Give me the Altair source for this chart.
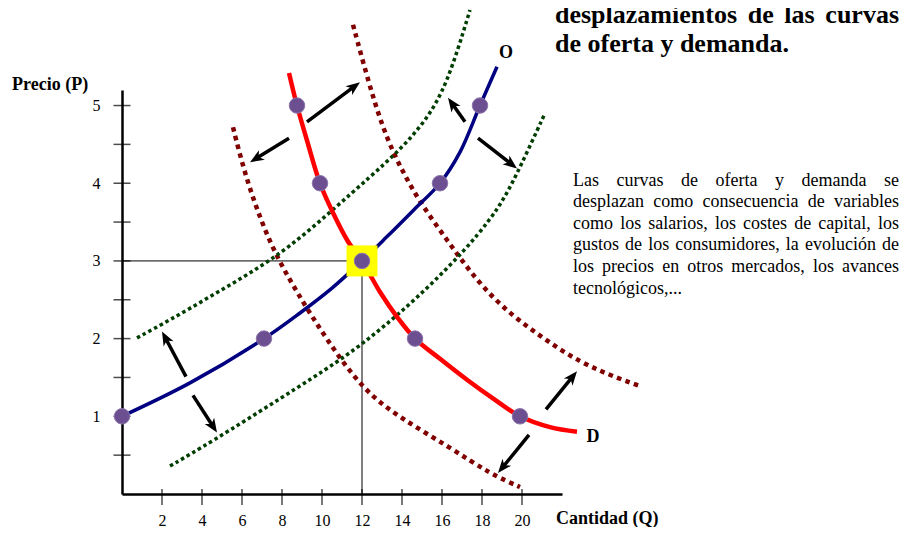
import math
import altair as alt
import pandas as pd

# ---------------- data ----------------
supply_q = [0, 3.4, 7.1, 8.9, 10.5, 12, 13.2, 14.6, 15.9, 16.9, 17.9, 18.75]
supply_p = [1, 1.43, 2, 2.33, 2.65, 3, 3.3, 3.66, 4, 4.4, 5, 5.5]

demand_q = [8.35, 8.75, 9.25, 9.9, 10.55, 11.3, 12, 12.9, 13.75, 14.65, 15.9, 17.25, 18.6, 19.9, 21.4, 22.75]
demand_p = [5.42, 5, 4.55, 4, 3.62, 3.25, 3, 2.6, 2.28, 2, 1.74, 1.47, 1.22, 1, 0.86, 0.8]

demand_left_q = [5.55, 6.05, 6.7, 7.55, 8.75, 10.25, 12.05, 13.9, 16.4, 18.4, 19.9]
demand_left_p = [4.72, 4.21, 3.69, 3.14, 2.59, 1.98, 1.34, 0.98, 0.6, 0.26, 0.09]

demand_right_q = [11.55, 12.25, 13.05, 13.9, 14.9, 16.25, 17.4, 18.9, 20.9, 22.9, 24.9, 25.9]
demand_right_p = [6.04, 5.37, 4.69, 4.21, 3.75, 3.27, 2.86, 2.42, 2.03, 1.69, 1.48, 1.39]

supply_left_q = [0.75, 2.4, 4.4, 6.4, 8.4, 10.55, 12.4, 13.9, 15.15, 16.25, 17.4]
supply_left_p = [2.01, 2.24, 2.54, 2.84, 3.18, 3.66, 4.08, 4.43, 4.79, 5.26, 6.23]

supply_right_q = [2.4, 4.4, 8.05, 10.9, 12.4, 13.9, 15.55, 17.15, 18.4, 19.15, 19.9, 21.15]
supply_right_p = [0.36, 0.66, 1.25, 1.72, 2.01, 2.33, 2.72, 3.14, 3.53, 3.82, 4.2, 4.9]

dots_q = [0, 7.1, 12, 15.9, 17.9, 8.75, 9.9, 14.65, 19.9]
dots_p = [1, 2, 3, 4, 5, 5, 4, 2, 1]

eq_q = [12]
eq_p = [3]

arrow_q1 = [9.25, 8.35, 17.15, 17.8, 3.2, 3.55, 21.2, 20.35]
arrow_p1 = [4.79, 4.58, 4.79, 4.58, 1.51, 1.27, 1.09, 0.76]
arrow_q2 = [11.9, 6.4, 16.3, 19.75, 2.0, 4.75, 22.75, 18.8]
arrow_p2 = [5.3, 4.27, 5.1, 4.19, 2.09, 0.79, 1.58, 0.27]

x_ticks = [2, 4, 6, 8, 10, 12, 14, 16, 18, 20]
y_ticks = [0.5, 1, 1.5, 2, 2.5, 3, 3.5, 4, 4.5, 5]
y_labels = [1, 2, 3, 4, 5]

title_lines = ["desplazamientos de las curvas", "de oferta y demanda."]
body_lines = [
    "Las curvas de oferta y demanda se",
    "desplazan como consecuencia de variables",
    "como los salarios, los costes de capital, los",
    "gustos de los consumidores, la evolución de",
    "los precios en otros mercados, los avances",
    "tecnológicos,...",
]

# ---------------- layout ----------------
W, H = 440, 404
XMAX, YMAX = 22, 5.2
PAD_L, PAD_T = 114, 82
PAD_R = 892 - PAD_L - W
PAD_B = 519 - PAD_T - H
X0 = 8 + PAD_L
Y0 = 8 + PAD_T
SX = W / XMAX
SY = H / YMAX
FONT = "Liberation Serif"


def to_data(px, py):
    return (px - X0) / SX, (Y0 + H - py) / SY


ROMAN = {' ': 250, ',': 250, '.': 250, 'a': 444, 'b': 500, 'c': 444, 'd': 500, 'e': 444,
         'f': 333, 'g': 500, 'h': 500, 'i': 278, 'j': 278, 'k': 500, 'l': 278, 'm': 778,
         'n': 500, 'o': 500, 'p': 500, 'q': 500, 'r': 333, 's': 389, 't': 278, 'u': 500,
         'v': 500, 'w': 722, 'x': 500, 'y': 500, 'z': 444, 'L': 611, 'ó': 500, 'é': 444}
BOLD = {' ': 250, '.': 250, ',': 250, 'a': 500, 'c': 444, 'd': 556, 'e': 444, 'f': 333,
        'i': 278, 'l': 278, 'm': 833, 'n': 556, 'o': 500, 'p': 556, 'r': 444, 's': 389,
        't': 333, 'u': 556, 'v': 500, 'y': 500, 'z': 444}


def tw(s, table, size):
    return sum(table.get(c, 500) for c in s) * size / 1000.0


def justify(lines, table, size, x0, x1, baselines):
    rows = []
    for i, (line, by) in enumerate(zip(lines, baselines)):
        words = line.split(" ")
        widths = [tw(w, table, size) for w in words]
        last = i == len(lines) - 1
        if last or len(words) == 1:
            gap = tw(" ", table, size)
        else:
            gap = (x1 - x0 - sum(widths)) / (len(words) - 1)
        x = x0
        for w, wd in zip(words, widths):
            q, p = to_data(x, by)
            rows.append({"q": q, "p": p, "t": w})
            x += wd + gap
    return pd.DataFrame(rows)


xs = alt.Scale(domain=[0, XMAX], nice=False, zero=False)
ys = alt.Scale(domain=[0, YMAX], nice=False, zero=False)
x_axis = alt.Axis(values=x_ticks, title=None, grid=False, ticks=False, tickSize=0,
                  domainColor="black", domainWidth=2.5, labelFont=FONT, labelFontSize=16,
                  labelColor="black", labelPadding=18, labelFlush=False, labelOverlap=False,
                  format="d")
y_axis = alt.Axis(values=y_labels, title=None, grid=False, ticks=False, tickSize=0,
                  domainColor="black", domainWidth=2.5, labelFont=FONT, labelFontSize=16,
                  labelColor="black", labelPadding=22, labelFlush=False, labelOverlap=False,
                  format="d")


def X(f):
    return alt.X(f"{f}:Q", scale=xs, axis=x_axis)


def Y(f):
    return alt.Y(f"{f}:Q", scale=ys, axis=y_axis)


def curves(pairs):
    rows = []
    for name, qs, ps in pairs:
        for q, p in zip(qs, ps):
            rows.append({"curve": name, "q": q, "p": p})
    return pd.DataFrame(rows)


layers = []

# crosshair to equilibrium
cross = pd.DataFrame({"q": [0, eq_q[0]], "q2": [eq_q[0], eq_q[0]],
                      "p": [eq_p[0], 0], "p2": [eq_p[0], eq_p[0]]})
layers.append(alt.Chart(cross).mark_rule(color="black", strokeWidth=1).encode(
    x=X("q"), x2="q2", y=Y("p"), y2="p2"))

# axis ticks crossing the axes
layers.append(alt.Chart(pd.DataFrame({"q": x_ticks, "p": [0] * len(x_ticks)})).mark_tick(
    orient="vertical", size=16, thickness=1.5, color="black", yOffset=3).encode(x=X("q"), y=Y("p")))
layers.append(alt.Chart(pd.DataFrame({"q": [0] * len(y_ticks), "p": y_ticks})).mark_tick(
    orient="horizontal", size=17, thickness=1.5, color="black").encode(x=X("q"), y=Y("p")))

# shifted curves
red_df = curves([("D1", demand_left_q, demand_left_p), ("D2", demand_right_q, demand_right_p)])
green_df = curves([("O1", supply_left_q, supply_left_p), ("O2", supply_right_q, supply_right_p)])
layers.append(alt.Chart(red_df).mark_line(color="#800000", strokeWidth=4.5, strokeDash=[4.5, 4.5],
                                          strokeCap="butt", interpolate="basis").encode(
    x=X("q"), y=Y("p"), detail="curve:N"))
layers.append(alt.Chart(green_df).mark_line(color="#003d00", strokeWidth=3.5, strokeDash=[3.5, 3],
                                            strokeCap="butt", interpolate="basis").encode(
    x=X("q"), y=Y("p"), detail="curve:N"))

# main curves
layers.append(alt.Chart(pd.DataFrame({"q": supply_q, "p": supply_p})).mark_line(
    color="#000080", strokeWidth=3.5, interpolate="catmull-rom").encode(x=X("q"), y=Y("p")))
layers.append(alt.Chart(pd.DataFrame({"q": demand_q, "p": demand_p})).mark_line(
    color="#ff0000", strokeWidth=4.5, interpolate="catmull-rom").encode(x=X("q"), y=Y("p")))

# equilibrium highlight + dots
layers.append(alt.Chart(pd.DataFrame({"q": eq_q, "p": eq_p})).mark_square(
    size=961, color="#ffff00", opacity=1).encode(x=X("q"), y=Y("p")))
layers.append(alt.Chart(pd.DataFrame({"q": dots_q, "p": dots_p})).mark_circle(
    size=240, color="#6c4f90", opacity=1, stroke="#8c74ac", strokeWidth=1).encode(x=X("q"), y=Y("p")))

# arrows
HEAD = 14
arows = []
for q1, p1, q2, p2 in zip(arrow_q1, arrow_p1, arrow_q2, arrow_p2):
    dx = (q2 - q1) * SX
    dy = -(p2 - p1) * SY
    L = math.hypot(dx, dy)
    ux, uy = dx / L, dy / L
    qc = q2 - ux * HEAD / 2 / SX
    pc = p2 + uy * HEAD / 2 / SY
    ang = math.degrees(math.atan2(dx, -dy)) % 360
    arows.append({"q": q1, "p": p1, "qc": qc, "pc": pc, "ang": ang})
adf = pd.DataFrame(arows)
layers.append(alt.Chart(adf).mark_rule(color="black", strokeWidth=3.5).encode(
    x=X("q"), y=Y("p"), x2="qc", y2="pc"))
layers.append(alt.Chart(adf).mark_point(
    shape="M0,-1L0.8,1L0,0.45L-0.8,1Z", filled=True, color="black", opacity=1, size=HEAD * HEAD).encode(
    x=X("qc"), y=Y("pc"), angle=alt.Angle("ang:Q", scale=None)))

# texts
title_df = justify(title_lines, BOLD, 26, 555, 899, [23, 52])
layers.append(alt.Chart(title_df).mark_text(
    align="left", baseline="alphabetic", font=FONT, fontSize=26, fontWeight="bold", color="black").encode(
    x=X("q"), y=Y("p"), text="t:N"))

body_df = justify(body_lines, ROMAN, 18, 573, 899, [185.5, 207.1, 228.7, 250.3, 271.9, 293.5])
layers.append(alt.Chart(body_df).mark_text(
    align="left", baseline="alphabetic", font=FONT, fontSize=18, color="black").encode(
    x=X("q"), y=Y("p"), text="t:N"))

label_rows = []
for txt, px, py in [("Precio (P)", 12, 90), ("Cantidad (Q)", 556, 524)]:
    q, p = to_data(px, py)
    label_rows.append({"q": q, "p": p, "t": txt})
layers.append(alt.Chart(pd.DataFrame(label_rows)).mark_text(
    align="left", baseline="alphabetic", font=FONT, fontSize=18, fontWeight="bold", color="black").encode(
    x=X("q"), y=Y("p"), text="t:N"))

curve_rows = []
for txt, px, py in [("O", 506, 58), ("D", 593, 442)]:
    q, p = to_data(px, py)
    curve_rows.append({"q": q, "p": p, "t": txt})
layers.append(alt.Chart(pd.DataFrame(curve_rows)).mark_text(
    align="center", baseline="alphabetic", font=FONT, fontSize=18, fontWeight="bold", color="black").encode(
    x=X("q"), y=Y("p"), text="t:N"))

chart = alt.layer(*layers).properties(
    width=W, height=H,
    background="white",
    autosize=alt.AutoSizeParams(type="none"),
    padding={"left": PAD_L, "top": PAD_T, "right": PAD_R, "bottom": PAD_B},
).configure_view(stroke=None)

chart.save("out.html", embed_options={"renderer": "svg", "actions": False})
